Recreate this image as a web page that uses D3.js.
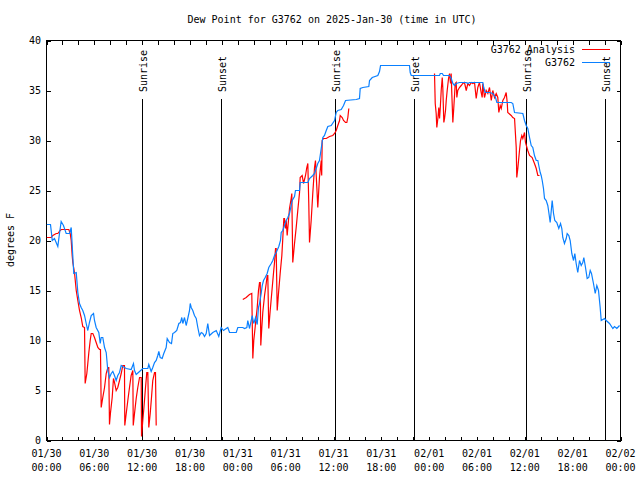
<!DOCTYPE html>
<html><head><meta charset="utf-8">
<script src="https://cdn.jsdelivr.net/npm/d3@7"></script>
<style>
body{margin:0;background:#fff;}
svg{display:block;}
text{font-family:"DejaVu Sans Mono","Liberation Mono",monospace;font-size:10px;fill:#000;}
</style></head>
<body><svg id="c" width="640" height="480"></svg>
<script>
// ---- data (hours since 2025-01-30 00:00 UTC) ----
const titleText = "Dew Point for G3762 on 2025-Jan-30 (time in UTC)";
const yLabel = "degrees F";
const seriesNames = ["G3762 Analysis", "G3762"];
const xTickHours = [0,6,12,18,24,30,36,42,48,54,60,66,72];
const xTickLabels = [["01/30","00:00"],["01/30","06:00"],["01/30","12:00"],["01/30","18:00"],["01/31","00:00"],["01/31","06:00"],["01/31","12:00"],["01/31","18:00"],["02/01","00:00"],["02/01","06:00"],["02/01","12:00"],["02/01","18:00"],["02/02","00:00"]];
const yTicks = [0,5,10,15,20,25,30,35,40];
const sunHours = [12.04, 21.95, 36.13, 46.04, 60.09, 70.0];
const sunLabels = ["Sunrise","Sunset","Sunrise","Sunset","Sunrise","Sunset"];

const obsHours = [0.04,0.50,0.63,0.72,1.00,1.42,1.63,1.84,2.13,2.47,2.89,3.10,3.17,3.42,3.73,3.93,4.14,4.35,4.55,4.77,4.98,5.18,5.39,5.61,5.90,6.02,6.23,6.56,6.74,6.86,7.06,7.28,7.49,7.69,7.90,8.12,8.32,8.53,8.74,8.94,9.16,9.37,9.57,9.78,10.0,10.62,10.91,11.04,11.25,11.67,12.08,12.71,12.83,13.13,13.33,13.55,13.76,13.96,14.09,14.26,14.51,14.71,15.01,15.14,15.43,15.68,15.84,16.06,16.34,16.60,16.81,16.97,17.10,17.31,17.52,17.72,17.94,18.03,18.15,18.35,18.56,18.78,18.98,19.19,19.41,19.61,19.82,20.03,20.23,20.45,20.86,21.29,21.61,21.91,22.20,22.74,22.96,23.80,24.0,24.62,24.84,25.13,25.25,25.46,25.68,25.80,26.0,26.22,26.43,26.59,26.72,26.93,27.06,27.22,27.43,27.68,27.88,28.19,28.39,28.60,28.81,29.14,29.35,29.44,29.64,29.85,30.07,30.27,30.48,30.82,31.11,31.23,31.74,31.82,32.78,32.99,33.40,33.62,33.83,34.03,34.24,34.46,34.66,34.87,35.09,35.29,35.71,36.13,36.34,36.54,36.97,37.26,37.51,38.85,39.26,39.35,39.68,40.43,40.52,40.86,41.56,41.77,41.90,45.53,45.62,45.75,49.30,49.39,49.64,49.80,50.55,50.77,50.97,51.18,51.39,51.80,52.65,52.85,53.06,54.73,54.85,55.03,55.57,55.98,56.32,56.49,58.29,58.49,58.71,59.75,59.96,60.17,60.37,60.59,60.80,61.0,61.21,61.43,61.63,61.75,61.93,62.05,62.18,62.34,62.47,62.68,62.88,63.01,63.18,63.43,63.60,63.76,64.01,64.26,64.48,64.64,64.76,64.97,65.19,65.31,65.52,65.69,65.89,66.11,66.27,66.44,66.64,66.86,67.07,67.27,67.40,67.61,67.82,68.02,68.20,68.36,68.61,68.83,69.03,69.24,69.45,69.58,70.0,70.21,70.62,71.04,71.25,71.54,71.88];
const obsValues = [21.6,21.6,20.7,20.0,20.2,19.4,20.7,21.9,21.5,20.7,20.7,21.3,20.3,16.7,16.8,14.8,13.7,13.3,13.0,12.5,11.7,11.0,11.8,12.5,12.7,12.0,11.3,10.8,9.7,10.3,10.3,9.3,8.8,7.0,6.3,6.7,6.9,6.5,6.0,6.5,6.8,7.5,7.4,7.3,7.2,7.1,7.7,7.0,6.6,6.9,7.2,7.2,7.6,6.9,7.3,7.8,8.0,8.5,8.9,8.3,8.2,8.7,9.3,10.2,9.8,9.7,10.7,10.8,11.0,11.7,11.8,12.3,11.7,12.3,11.5,12.2,13.0,13.7,13.3,13.0,12.5,12.2,11.3,10.5,10.8,10.7,10.4,10.7,11.7,10.5,10.8,11.0,10.4,11.3,11.0,11.3,10.8,10.8,11.3,11.3,11.2,11.3,12.0,11.2,12.0,12.5,11.7,12.3,11.6,13.3,13.7,14.7,15.5,16.0,16.3,16.7,17.3,17.7,18.0,18.5,18.8,19.4,20.0,20.8,21.0,21.5,22.0,22.3,22.7,24.0,24.4,25.0,25.0,25.8,25.8,26.2,26.5,26.7,27.2,27.7,28.0,29.2,30.3,30.5,31.0,31.4,31.5,32.0,32.8,33.0,33.1,33.5,34.0,34.1,34.2,35.2,35.3,35.4,36.0,36.3,36.5,36.9,37.5,37.5,36.8,36.5,36.5,36.7,36.7,36.5,36.5,36.2,35.7,35.5,35.7,35.8,35.8,35.7,35.8,35.8,35.3,34.8,34.8,34.7,34.3,33.8,33.8,33.7,32.8,32.7,32.0,31.5,31.2,30.3,29.5,29.3,28.5,28.0,28.0,27.5,26.8,26.5,26.0,25.2,24.2,24.0,23.5,22.8,21.8,24.0,22.7,22.0,21.8,21.2,21.7,21.2,20.3,19.7,20.2,20.7,20.5,20.0,18.7,18.0,18.7,17.7,16.8,18.0,17.5,17.8,18.3,17.3,16.2,16.3,17.0,16.7,15.7,14.7,15.5,15.0,13.3,12.0,12.2,12.0,11.7,11.2,11.4,11.2,11.5];

// analysis series; null marks a gap
const anaHours = [0.04,0.59,0.79,1.22,1.42,1.72,1.84,2.80,2.97,3.10,3.22,3.30,3.51,3.73,3.93,4.14,4.35,4.55,4.77,4.85,5.06,5.18,5.31,5.48,5.61,5.81,6.02,6.23,6.44,6.65,6.77,6.86,7.06,7.28,7.49,7.69,7.81,7.90,8.03,8.24,8.40,8.53,8.74,8.94,9.16,9.37,9.57,9.78,9.82,10.0,10.2,10.41,10.62,10.83,10.88,11.04,11.25,11.45,11.67,11.88,11.92,12.08,12.21,12.42,12.58,12.71,12.83,13.01,13.17,13.33,13.55,13.67,13.76,
 19.0,
 24.62,25.05,25.46,25.75,25.88,26.0,26.22,26.43,26.59,26.72,26.81,26.88,27.01,27.13,27.35,27.56,27.68,27.76,27.88,28.06,28.26,28.47,28.60,28.73,28.81,28.94,29.10,29.31,29.52,29.64,29.77,29.85,29.98,30.07,30.19,30.48,30.69,30.77,30.89,31.11,31.32,31.52,31.74,31.82,32.07,32.24,32.49,32.65,32.78,32.90,32.99,33.20,33.40,33.62,33.74,33.91,34.03,34.24,34.46,34.52,34.58,34.75,35.09,35.5,35.91,36.13,36.34,36.54,36.76,36.84,37.09,37.26,37.51,37.67,37.8,37.92,
 43.0,
 48.67,48.76,48.88,48.96,49.09,49.21,49.30,49.39,49.51,49.64,49.71,49.84,49.93,50.05,50.14,50.26,50.43,50.55,50.68,50.76,50.84,50.97,51.09,51.27,51.39,51.47,51.59,51.80,52.02,52.22,52.43,52.65,52.85,53.06,53.28,53.48,53.69,53.9,54.1,54.31,54.52,54.65,54.73,54.94,55.15,55.36,55.57,55.79,55.98,56.2,56.41,56.61,56.74,56.91,57.04,57.24,57.45,57.66,57.79,57.86,58.29,58.49,58.71,58.92,58.99,59.12,59.33,59.46,59.62,59.75,59.96,60.08,60.37,60.59,60.92,61.21,61.43,61.63,61.84];
const anaValues = [20.3,20.3,20.5,20.7,20.7,21.0,21.1,21.1,20.7,20.0,18.5,17.8,16.8,15.0,14.0,13.0,12.3,11.4,11.3,5.7,6.7,7.7,8.8,10.0,10.7,10.7,10.3,9.8,9.3,9.1,9.1,3.3,4.3,5.3,6.7,7.3,7.3,1.6,2.8,4.3,6.2,5.8,5.0,5.3,6.0,6.7,7.5,7.5,1.5,2.7,4.0,5.3,6.5,7.0,1.5,2.7,4.2,5.3,6.3,6.3,0.4,2.0,3.2,5.3,6.8,6.8,1.3,2.7,4.3,6.0,6.8,6.8,1.5,
 null,
 14.1,14.3,14.6,14.7,8.2,10.0,11.7,13.3,15.0,15.8,15.8,9.5,11.3,12.8,14.5,15.7,16.5,16.5,11.2,13.0,14.8,16.7,17.8,19.2,19.2,13.0,14.7,16.7,18.5,20.2,22.2,22.2,21.2,22.0,20.5,23.2,24.2,24.7,17.8,19.7,21.3,23.0,24.8,26.3,26.5,25.7,26.5,27.3,27.7,23.7,19.8,22.0,24.7,27.3,28.0,25.3,23.3,26.3,28.0,26.5,30.0,30.2,30.2,30.4,30.5,30.7,31.0,31.5,32.0,32.5,32.3,32.0,31.8,31.8,32.3,33.2,
 null,
 36.7,33.7,32.7,31.3,32.2,33.3,32.2,33.2,35.0,36.3,35.3,31.8,32.2,33.0,34.0,35.0,36.2,36.7,35.7,36.7,34.7,31.8,33.3,35.7,35.8,34.3,35.0,35.3,35.5,35.7,35.8,35.0,35.7,35.5,35.8,35.7,35.8,34.2,35.3,35.8,34.8,34.3,35.7,34.3,35.0,34.7,35.3,34.0,35.0,34.3,34.7,34.3,32.8,33.5,33.2,34.0,34.3,34.8,33.8,32.8,32.5,32.3,32.2,29.3,26.3,27.2,29.0,30.0,30.5,30.2,30.8,29.8,29.0,28.5,28.3,27.7,27.2,26.5,26.5];

// ---- drawing ----
const svg = d3.select("#c");
const L = 46.5, R = 620.5, T = 40.5, B = 440.5;
const x = d3.scaleLinear().domain([0,72]).range([L,R]);
const y = d3.scaleLinear().domain([0,40]).range([B,T]);

svg.append("text").attr("x",332).attr("y",23).attr("text-anchor","middle").text(titleText);

// axes with inward ticks
const minorTicks = d3.range(0,73,2);
const gB = svg.append("g").attr("transform",`translate(0,${B})`)
  .call(d3.axisTop(x).tickValues(minorTicks).tickSize(4).tickFormat(""));
const gT = svg.append("g").attr("transform",`translate(0,${T})`)
  .call(d3.axisBottom(x).tickValues(minorTicks).tickSize(4).tickFormat(""));
const gL = svg.append("g").attr("transform",`translate(${L},0)`)
  .call(d3.axisRight(y).tickValues(yTicks).tickSize(4).tickFormat(""));
const gR = svg.append("g").attr("transform",`translate(${R},0)`)
  .call(d3.axisLeft(y).tickValues(yTicks).tickSize(4).tickFormat(""));
[gB,gT,gL,gR].forEach(g=>{g.select(".domain").remove();g.selectAll("line").attr("stroke","#000").attr("shape-rendering","crispEdges");});

// x tick labels
xTickHours.forEach((h,i)=>{
  const t = svg.append("text").attr("x",x(h)).attr("text-anchor","middle");
  t.append("tspan").attr("x",x(h)).attr("y",457).text(xTickLabels[i][0]);
  t.append("tspan").attr("x",x(h)).attr("y",471).text(xTickLabels[i][1]);
});
// y tick labels
yTicks.forEach(v=>{
  svg.append("text").attr("x",41).attr("y",y(v)+3.5).attr("text-anchor","end").text(v);
});
svg.append("text").attr("transform",`translate(14,240) rotate(-90)`).attr("text-anchor","middle").text(yLabel);

// border
svg.append("rect").attr("x",L).attr("y",T).attr("width",R-L).attr("height",B-T)
  .attr("fill","none").attr("stroke","#000").attr("shape-rendering","crispEdges");

// sunrise/sunset
sunHours.forEach((h,i)=>{
  const xp = Math.round(x(h))+0.5;
  svg.append("text").attr("transform",`translate(${xp+4},92) rotate(-90)`).attr("text-anchor","start").text(sunLabels[i]);
  svg.append("line").attr("x1",xp).attr("x2",xp).attr("y1",99).attr("y2",B)
    .attr("stroke","#000").attr("shape-rendering","crispEdges");
});

// series
const obs = obsHours.map((h,i)=>[h,obsValues[i]]);
const ana = anaHours.map((h,i)=>[h,anaValues[i]]);
const line = d3.line().defined(d=>d[1]!==null).x(d=>x(d[0])).y(d=>y(d[1]));
svg.append("path").datum(ana).attr("d",line).attr("fill","none").attr("stroke","#ff0000").attr("stroke-width",1.2);
svg.append("path").datum(obs).attr("d",line).attr("fill","none").attr("stroke","#0a80ff").attr("stroke-width",1.2);

// legend
svg.append("text").attr("x",575).attr("y",53).attr("text-anchor","end").text(seriesNames[0]);
svg.append("line").attr("x1",582).attr("x2",610).attr("y1",49.5).attr("y2",49.5).attr("stroke","#ff0000");
svg.append("text").attr("x",575).attr("y",66).attr("text-anchor","end").text(seriesNames[1]);
svg.append("line").attr("x1",582).attr("x2",610).attr("y1",62.5).attr("y2",62.5).attr("stroke","#0a80ff");
</script></body></html>
